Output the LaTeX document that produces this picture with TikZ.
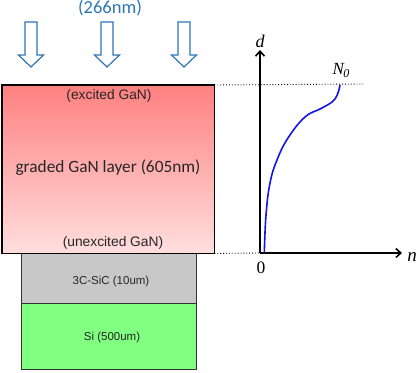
\documentclass[tikz,border=0pt]{standalone}
\usepackage{fontspec}
\setmainfont{Carlito}
\newfontfamily\arialf{Liberation Sans}
\newfontfamily\seriff{Liberation Serif}
\usetikzlibrary{arrows.meta,shapes.arrows}
\definecolor{uvblue}{RGB}{46,117,182}
\definecolor{gantop}{RGB}{255,128,128}
\definecolor{ganbot}{RGB}{255,222,222}
\definecolor{sicgray}{RGB}{200,200,200}
\definecolor{sigreen}{RGB}{128,255,128}
\definecolor{curveblue}{RGB}{20,20,230}
\begin{document}
\begin{tikzpicture}[x=1pt,y=-1pt,
  uvarrow/.style={draw=uvblue, line width=1.2pt, fill=white},
  layerbox/.style={draw=black!80, line width=0.9pt},
  smalltxt/.style={font=\arialf\fontsize{11.5}{13}\selectfont, text=black!85},
  gantxt/.style={font=\arialf\fontsize{13.8}{16}\selectfont, text=black!85},
  axlabel/.style={font=\seriff\fontsize{18}{20}\selectfont, inner sep=1pt},
  axisline/.style={line width=1.6pt, -{Straight Barb[length=5pt,width=9pt,line width=1.6pt]}},
  guide/.style={dotted, line width=0.9pt}]
\useasboundingbox (0,0) rectangle (419,372);
% UV label
\node[text=uvblue, font=\fontsize{18.5}{20}\selectfont] (uv) at (110,8) {(266nm)};
% hollow arrows
\foreach \cx/\nm in {31/a1,107/a2,184/a3}{
  \draw[uvarrow] (\cx-6,22) -- (\cx+6,22) -- (\cx+6,55) -- (\cx+12.5,55) -- (\cx,67) -- (\cx-12.5,55) -- (\cx-6,55) -- cycle;
}
% layers
\shade[top color=gantop, bottom color=ganbot] (2,85) rectangle (214,253);
\node[minimum width=212pt, minimum height=168pt, inner sep=0pt, anchor=north west] (gan) at (2,85) {};
\node[layerbox, fill=sicgray, minimum width=175pt, minimum height=50pt, inner sep=0pt, anchor=north west] (sic) at (21,253) {};
\node[layerbox, fill=sigreen, minimum width=175pt, minimum height=66pt, inner sep=0pt, anchor=north west] (si) at (21,303) {};
\draw[draw=black, line width=1.6pt] (gan.north west) rectangle (gan.south east);
\node[gantxt] (exc) at (109,96) {(excited GaN)};
\node[font=\fontsize{17.3}{20}\selectfont, text=black!85] (grad) at (108,168) {graded GaN layer (605nm)};
\node[gantxt] (unexc) at (113,243) {(unexcited GaN)};
\node[smalltxt] (sictxt) at (111,282) {3C-SiC (10um)};
\node[smalltxt] (sitxt) at (112,338) {Si (500um)};
% plot
\coordinate (o) at (260,253);
\coordinate (dtop) at (260,50);
\coordinate (nend) at (402,253);
\coordinate (dotend) at (363,84);
\draw[guide] (gan.north east) -- (dotend);
\draw[guide] (gan.south east) -- (o);
\draw[axisline] (o) -- (dtop);
\draw[axisline] (o) -- (nend);
\node[axlabel] (dlab) at (260,41) {\itshape d};
\node[axlabel, font=\seriff\fontsize{19}{20}\selectfont] (nlab) at (412,257) {\itshape n};
\node[axlabel, font=\seriff\fontsize{17.5}{20}\selectfont] (zero) at (261,268) {0};
\node[axlabel, font=\seriff\fontsize{17}{20}\selectfont] (n0) at (341,70) {\itshape N\kern-0.5pt\raisebox{-3pt}{\fontsize{12}{14}\selectfont 0}};
\draw[curveblue, line width=1.6pt] plot[smooth, tension=0.7] coordinates {(264.3,253) (266,215) (270,183) (277,160) (288,138) (305,117) (322,108) (335,99) (340,85)};
\end{tikzpicture}
\end{document}
